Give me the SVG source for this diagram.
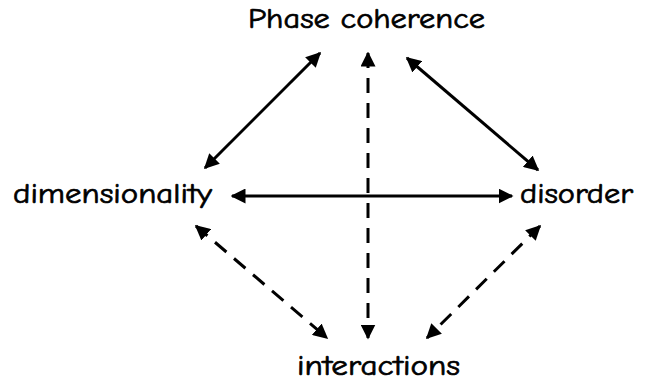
<svg xmlns="http://www.w3.org/2000/svg" width="646" height="389" viewBox="0 0 646 389">
<defs>
<marker id="ah" viewBox="0 0 10 10" refX="9" refY="5" markerWidth="5" markerHeight="5" markerUnits="strokeWidth" orient="auto-start-reverse">
<path d="M0,0 L10,5 L0,10 z" fill="#000"/>
</marker>
<style>
.lbl{font-family:"Comic Sans MS","Comic Neue","DejaVu Sans",sans-serif;font-size:29px;font-weight:400;fill:#000;stroke:#000;stroke-width:0.7}
.c{stroke:#000;stroke-width:3;fill:none;marker-start:url(#ah);marker-end:url(#ah)}
.d{stroke-dasharray:15 10}
</style>
</defs>
<rect width="646" height="389" fill="#fff"/>
<g id="connectors">
<line class="c" x1="205" y1="168" x2="320" y2="53"/>
<line class="c" x1="407" y1="58" x2="538" y2="170"/>
<line class="c" x1="232" y1="196" x2="512" y2="196"/>
<line class="c d" x1="368" y1="53" x2="368" y2="338"/>
<line class="c d" x1="196" y1="226" x2="327" y2="338"/>
<line class="c d" x1="540" y1="226" x2="427" y2="338"/>
</g>
<g id="phase"><text class="lbl" x="248" y="28" textLength="237" lengthAdjust="spacingAndGlyphs">Phase coherence</text></g>
<g id="dimensionality"><text class="lbl" x="13" y="203" textLength="199" lengthAdjust="spacingAndGlyphs">dimensionality</text></g>
<g id="disorder"><text class="lbl" x="520" y="203" textLength="113" lengthAdjust="spacingAndGlyphs">disorder</text></g>
<g id="interactions"><text class="lbl" x="297" y="375" textLength="163" lengthAdjust="spacingAndGlyphs">interactions</text></g>
</svg>
